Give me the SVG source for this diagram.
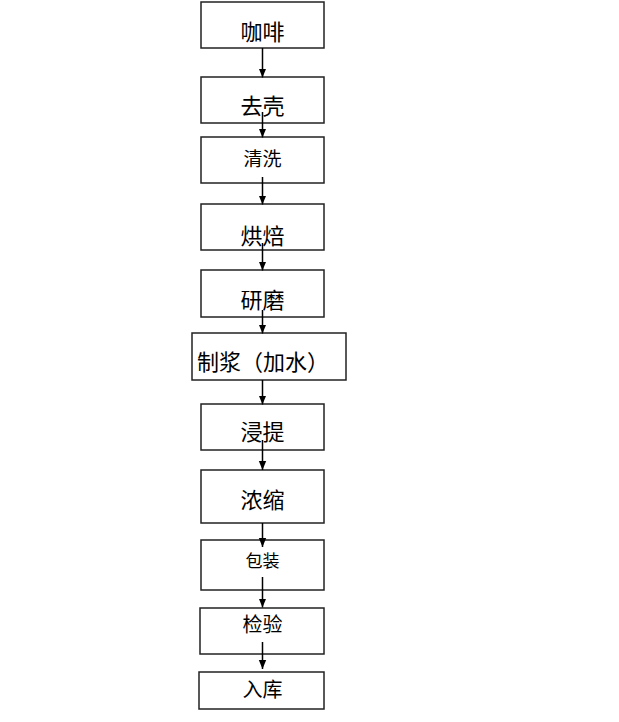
<svg xmlns="http://www.w3.org/2000/svg" width="619" height="722" viewBox="0 0 619 722">
<style>
.box{fill:#fff;stroke:#222;stroke-width:1.5}
.t{font-family:"Liberation Serif","Noto Sans CJK SC",serif;fill:#000;text-anchor:middle}
.c{stroke:#000;stroke-width:1.5;fill:none}
</style>
<defs>
<marker id="a" markerUnits="userSpaceOnUse" markerWidth="9" markerHeight="11" viewBox="0 0 11 9" refX="11" refY="4.5" orient="auto">
<path d="M0,0 L11,4.5 L0,9 Z" fill="#000"/>
</marker>
</defs>
<rect width="619" height="722" fill="#fff"/>
<g id="n1"><rect class="box" x="201" y="2" width="123" height="46"/><text class="t" x="262.5" y="39.5" font-size="22">咖啡</text></g>
<g id="n2"><rect class="box" x="201" y="77" width="123" height="46"/><text class="t" x="262.5" y="113.5" font-size="22">去壳</text></g>
<g id="n3"><rect class="box" x="201" y="137" width="123" height="46"/><text class="t" x="262.5" y="166" font-size="19">清洗</text></g>
<g id="n4"><rect class="box" x="201" y="204" width="123" height="46"/><text class="t" x="262.5" y="243.5" font-size="22">烘焙</text></g>
<g id="n5"><rect class="box" x="201" y="270" width="123" height="47"/><text class="t" x="262.5" y="307.5" font-size="22">研磨</text></g>
<g id="n6"><rect class="box" x="192" y="333" width="154" height="47"/><text class="t" x="197" y="370" font-size="22" style="text-anchor:start">制浆（加水）</text></g>
<g id="n7"><rect class="box" x="201" y="404" width="123" height="46"/><text class="t" x="262.5" y="439.5" font-size="22">浸提</text></g>
<g id="n8"><rect class="box" x="201" y="470" width="123" height="53"/><text class="t" x="262.5" y="507.5" font-size="22">浓缩</text></g>
<g id="n9"><rect class="box" x="201" y="540" width="123" height="50"/><text class="t" x="262.5" y="567" font-size="17">包装</text></g>
<g id="n10"><rect class="box" x="200" y="608" width="124" height="46"/><text class="t" x="262.5" y="632" font-size="20">检验</text></g>
<g id="n11"><rect class="box" x="199" y="672" width="125" height="37"/><text class="t" x="262.5" y="697" font-size="20">入库</text></g>
<g id="connectors">
<line class="c" x1="262.5" y1="48" x2="262.5" y2="77.5" marker-end="url(#a)"/>
<line class="c" x1="262.5" y1="112" x2="262.5" y2="137.5" marker-end="url(#a)"/>
<line class="c" x1="262.5" y1="177" x2="262.5" y2="204.5" marker-end="url(#a)"/>
<line class="c" x1="262.5" y1="243" x2="262.5" y2="270.5" marker-end="url(#a)"/>
<line class="c" x1="262.5" y1="310" x2="262.5" y2="333.5" marker-end="url(#a)"/>
<line class="c" x1="262.5" y1="380" x2="262.5" y2="404.5" marker-end="url(#a)"/>
<line class="c" x1="262.5" y1="440" x2="262.5" y2="470" marker-end="url(#a)"/>
<line class="c" x1="262.5" y1="523" x2="262.5" y2="547" marker-end="url(#a)"/>
<line class="c" x1="262.5" y1="577" x2="262.5" y2="607.5" marker-end="url(#a)"/>
<line class="c" x1="262.5" y1="642" x2="262.5" y2="669" marker-end="url(#a)"/>
</g>
</svg>
